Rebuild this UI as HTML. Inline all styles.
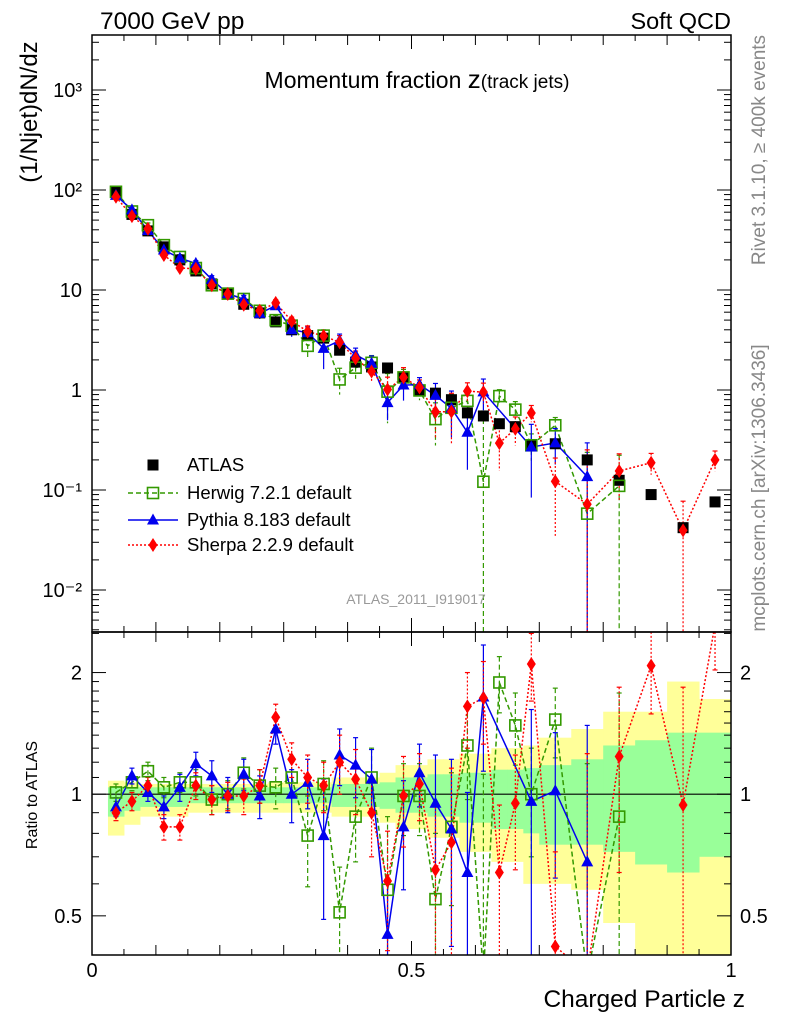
<!DOCTYPE html>
<html><head><meta charset="utf-8">
<style>
html,body{margin:0;background:#fff;overflow:hidden;width:786px;height:1024px;}
svg{display:block;font-family:"Liberation Sans",sans-serif;}
</style></head>
<body>
<svg id="chart" width="786" height="1024" viewBox="0 0 786 1024" xmlns="http://www.w3.org/2000/svg">
<g id="bands"></g>
<g id="marks"></g>
<g id="axes"></g>
<text x="100" y="29" font-size="24.5">7000 GeV pp</text>
<text x="731" y="29" font-size="23.5" text-anchor="end">Soft QCD</text>
<text x="417" y="88" font-size="23" text-anchor="middle">Momentum fraction <tspan font-size="26">z</tspan><tspan font-size="19">(track jets)</tspan></text>
<text transform="translate(37,112) rotate(-90)" font-size="24" text-anchor="middle">(1/Njet)dN/dz</text>
<text transform="translate(37,795) rotate(-90)" font-size="16" text-anchor="middle">Ratio to ATLAS</text>
<text x="745" y="1007" font-size="24.5" text-anchor="end">Charged Particle z</text>
<text transform="translate(765,150) rotate(-90)" font-size="19" fill="#888" text-anchor="middle">Rivet 3.1.10, ≥ 400k events</text>
<text transform="translate(765,488) rotate(-90)" font-size="19" fill="#888" text-anchor="middle">mcplots.cern.ch [arXiv:1306.3436]</text>
<text x="416" y="604" font-size="14" fill="#999" text-anchor="middle">ATLAS_2011_I919017</text>
<g id="legend"></g>
</svg>
<script>
const zCenters=[0.0375,0.0625,0.0875,0.1125,0.1375,0.1625,0.1875,0.2125,0.2375,0.2625,0.2875,0.3125,0.3375,0.3625,0.3875,0.4125,0.4375,0.4625,0.4875,0.5125,0.5375,0.5625,0.5875,0.6125,0.6375,0.6625,0.6875,0.725,0.775,0.825,0.875,0.925,0.975];
const binLo=[0.025,0.05,0.075,0.1,0.125,0.15,0.175,0.2,0.225,0.25,0.275,0.3,0.325,0.35,0.375,0.4,0.425,0.45,0.475,0.5,0.525,0.55,0.575,0.6,0.625,0.65,0.675,0.7,0.75,0.8,0.85,0.9,0.95];
const binHi=[0.05,0.075,0.1,0.125,0.15,0.175,0.2,0.225,0.25,0.275,0.3,0.325,0.35,0.375,0.4,0.425,0.45,0.475,0.5,0.525,0.55,0.575,0.6,0.625,0.65,0.675,0.7,0.75,0.8,0.85,0.9,0.95,1.0];
const atlas=[95,57,39,27,20,15.5,11.5,9.2,7.2,5.9,4.8,4.0,3.5,3.3,2.5,1.9,1.7,1.66,1.35,1.0,0.93,0.8,0.59,0.55,0.46,0.43,0.28,0.29,0.2,0.125,0.09,0.042,0.076];
const herwigRatio=[1.01,1.07,1.14,1.04,1.07,1.07,0.97,1.0,1.13,1.05,1.04,1.10,0.79,1.06,0.51,0.88,1.10,0.58,0.99,0.99,0.55,0.83,1.32,0.22,1.89,1.48,1.0,1.53,0.29,0.88,null,null,null];
const pythiaRatio=[0.93,1.11,1.01,0.93,1.04,1.19,1.11,1.0,1.12,0.99,1.45,1.0,1.07,0.79,1.25,1.18,1.09,0.45,0.83,1.13,0.95,0.82,0.64,1.74,null,null,0.96,1.02,0.68,null,null,null,null];
const sherpaRatio=[0.90,0.96,1.05,0.83,0.83,1.05,0.97,0.99,0.99,1.05,1.55,1.22,1.10,1.05,1.20,1.09,0.90,0.61,0.99,1.06,0.65,0.76,1.65,1.73,0.64,0.95,2.1,0.42,0.36,1.24,2.08,0.94,2.63];
const herwigErr=[0.05,0.05,0.06,0.06,0.06,0.08,0.08,0.08,0.1,0.1,0.12,0.12,0.2,0.15,0.15,0.2,0.2,0.3,0.2,0.2,0.25,0.3,0.35,0.9,0.3,0.3,0.3,0.3,0.9,0.9,0,0,0];
const pythiaErr=[0.05,0.05,0.05,0.06,0.08,0.08,0.1,0.1,0.1,0.12,0.12,0.15,0.15,0.3,0.2,0.2,0.2,0.15,0.25,0.2,0.3,0.4,0.37,0.6,0,0,0.66,0.4,0.8,0,0,0,0];
const sherpaErr=[0.04,0.05,0.05,0.06,0.06,0.08,0.08,0.08,0.1,0.1,0.12,0.12,0.15,0.15,0.2,0.2,0.2,0.2,0.25,0.2,0.3,0.4,0.35,0.4,0.3,0.3,0.4,0.3,0.9,0.6,0.5,0.9,0.6];
const yellowLo=[0.79,0.84,0.88,0.88,0.88,0.9,0.9,0.9,0.9,0.9,0.9,0.9,0.9,0.9,0.88,0.88,0.88,0.85,0.82,0.82,0.78,0.78,0.72,0.72,0.68,0.68,0.6,0.6,0.58,0.48,0.35,0.35,0.35];
const yellowHi=[1.08,1.07,1.06,1.06,1.06,1.06,1.06,1.06,1.06,1.06,1.07,1.07,1.07,1.07,1.1,1.1,1.1,1.13,1.18,1.18,1.22,1.22,1.26,1.26,1.3,1.3,1.32,1.38,1.45,1.6,1.6,1.9,1.72];
const greenLo=[0.88,0.91,0.93,0.93,0.93,0.95,0.95,0.95,0.95,0.95,0.95,0.95,0.95,0.95,0.93,0.93,0.93,0.92,0.9,0.9,0.88,0.88,0.85,0.85,0.82,0.82,0.8,0.75,0.75,0.72,0.67,0.64,0.7];
const greenHi=[1.04,1.04,1.04,1.04,1.04,1.04,1.04,1.04,1.04,1.04,1.04,1.04,1.04,1.04,1.06,1.06,1.06,1.07,1.1,1.1,1.12,1.12,1.13,1.13,1.15,1.15,1.16,1.18,1.22,1.32,1.36,1.42,1.42];
const mainTickLabels=["10\u207B\u00B2","10\u207B\u00B9","1","10","10\u00B2","10\u00B3"];
const mainTickExps=[-2,-1,0,1,2,3];
const ratioTickVals=[0.5,1,2];
const xTickVals=[0,0.5,1];
const legendNames=["ATLAS","Herwig 7.2.1 default","Pythia 8.183 default","Sherpa 2.2.9 default"];

const NS="http://www.w3.org/2000/svg";
const X0=92,X1=731,MT=35,MB=632,RB=955;
const LTOP=3.55,LBOT=-2.42;
const RTOP=Math.log2(2.52),RBOT=Math.log2(0.40);
function xs(z){return X0+z*(X1-X0);}
function ysRaw(v){return MT+(LTOP-Math.log10(v))/(LTOP-LBOT)*(MB-MT);}
function ys(v){return Math.min(Math.max(ysRaw(v),MT-20),MB+20);}
function yr(r){const y=MB+(RTOP-Math.log2(r))/(RTOP-RBOT)*(RB-MB);return Math.min(Math.max(y,MB-20),RB+20);}
function mk(tag,attrs,parent){const e=document.createElementNS(NS,tag);for(const k in attrs)e.setAttribute(k,attrs[k]);parent.appendChild(e);return e;}
const bands=document.getElementById('bands'),marks=document.getElementById('marks'),axes=document.getElementById('axes'),legend=document.getElementById('legend');

function clipR(r){return Math.min(Math.max(r,0.40),2.52);}
for(let i=0;i<binLo.length;i++){
  const y=mk('rect',{x:xs(binLo[i]),y:yr(clipR(yellowHi[i])),width:xs(binHi[i])-xs(binLo[i])+0.5,height:yr(clipR(yellowLo[i]))-yr(clipR(yellowHi[i])),fill:'#ffff99'},bands);
  
  
}
for(let i=0;i<binLo.length;i++){
  const g=mk('rect',{x:xs(binLo[i]),y:yr(greenHi[i]),width:xs(binHi[i])-xs(binLo[i])+0.5,height:yr(greenLo[i])-yr(greenHi[i]),fill:'#99ff99'},bands);
  
  
}
mk('line',{x1:X0,x2:X1,y1:yr(1),y2:yr(1),stroke:'#000','stroke-width':1.2},bands);

const defs=mk('defs',{},document.getElementById('chart'));
const c1=mk('clipPath',{id:'cm'},defs);mk('rect',{x:X0,y:MT,width:X1-X0,height:MB-MT},c1);
const c2=mk('clipPath',{id:'cr'},defs);mk('rect',{x:X0,y:MB,width:X1-X0,height:RB-MB},c2);
const gm=mk('g',{'clip-path':'url(#cm)'},marks);
const gr=mk('g',{'clip-path':'url(#cr)'},marks);

function marker(type,cx,cy,col,parent,name){
  let e;
  if(type==='sq') e=mk('rect',{x:cx-5.5,y:cy-5.5,width:11,height:11,fill:'#000'},parent);
  else if(type==='osq') e=mk('rect',{x:cx-5.5,y:cy-5.5,width:11,height:11,fill:'none',stroke:col,'stroke-width':1.6},parent);
  else if(type==='tri') e=mk('path',{d:`M${cx},${cy-6.5}L${cx+6},${cy+4.5}L${cx-6},${cy+4.5}Z`,fill:col},parent);
  else e=mk('path',{d:`M${cx},${cy-7}L${cx+4.5},${cy}L${cx},${cy+7}L${cx-4.5},${cy}Z`,fill:col},parent);
  
  
}
const series=[
 {r:herwigRatio,err:herwigErr,col:'#339900',dash:'5,3',type:'osq',name:'herwig'},
 {r:pythiaRatio,err:pythiaErr,col:'#0000ee',dash:'',type:'tri',name:'pythia'},
 {r:sherpaRatio,err:sherpaErr,col:'#ff0000',dash:'2,2',type:'dia',name:'sherpa'}];
series.forEach(s=>{
  let pm='',pr='';
  for(let i=0;i<zCenters.length;i++){
    if(s.r[i]==null) continue;
    const x=xs(zCenters[i]);
    pm+=(pm?'L':'M')+x+','+ys(s.r[i]*atlas[i]);
    pr+=(pr?'L':'M')+x+','+yr(s.r[i]);
  }
  const a={fill:'none',stroke:s.col,'stroke-width':1.5};if(s.dash)a['stroke-dasharray']=s.dash;
  const l1=mk('path',Object.assign({d:pm},a),gm);
  
  
  const l2=mk('path',Object.assign({d:pr},a),gr);
  
  
  for(let i=0;i<zCenters.length;i++){
    if(s.r[i]==null||!s.err[i]) continue;
    const x=xs(zCenters[i]);const hi=s.r[i]+s.err[i],lo=Math.max(s.r[i]-s.err[i],0.0001);
    const ea={stroke:s.col,'stroke-width':1.2};if(s.dash)ea['stroke-dasharray']=s.dash;
    const e1=mk('line',Object.assign({x1:x,x2:x,y1:yr(hi),y2:yr(lo)},ea),gr);
    
    
    mk('line',{x1:x-2.5,x2:x+2.5,y1:yr(hi),y2:yr(hi),stroke:s.col,'stroke-width':1.2},gr);
    mk('line',{x1:x-2.5,x2:x+2.5,y1:yr(lo),y2:yr(lo),stroke:s.col,'stroke-width':1.2},gr);
    const e2=mk('line',Object.assign({x1:x,x2:x,y1:ys(hi*atlas[i]),y2:ys(lo*atlas[i])},ea),gm);
    
    
    mk('line',{x1:x-2.5,x2:x+2.5,y1:ys(hi*atlas[i]),y2:ys(hi*atlas[i]),stroke:s.col,'stroke-width':1.2},gm);
  }
});
for(let i=0;i<zCenters.length;i++) marker('sq',xs(zCenters[i]),ys(atlas[i]),'#000',gm,'atlas-point');
series.forEach(s=>{
  for(let i=0;i<zCenters.length;i++){
    if(s.r[i]==null) continue;
    marker(s.type,xs(zCenters[i]),ys(s.r[i]*atlas[i]),s.col,gm,s.name+'-point');
    marker(s.type,xs(zCenters[i]),yr(s.r[i]),s.col,gr,s.name+'-ratio-point');
  }
});

mk('rect',{x:X0,y:MT,width:X1-X0,height:MB-MT,fill:'none',stroke:'#000','stroke-width':1.5},axes);
mk('rect',{x:X0,y:MB,width:X1-X0,height:RB-MB,fill:'none',stroke:'#000','stroke-width':1.5},axes);
function tick(x1,y1,x2,y2){mk('line',{x1,y1,x2,y2,stroke:'#000','stroke-width':1},axes);}
for(let k=0;k<=20;k++){const z=k*0.05,x=xs(z),L=(k%2===0)?(k%10===0?14:10):6;
  [MT,MB].forEach(y=>tick(x,y,x,y+L));[MB,RB].forEach(y=>tick(x,y,x,y-L));}
xTickVals.forEach(v=>{const t=mk('text',{x:xs(v),y:977,'font-size':20,'text-anchor':'middle'},axes);t.textContent=String(v);
  
  });
for(let e=-3;e<=3;e++){for(let m=1;m<10;m++){const v=m*Math.pow(10,e),y=ysRaw(v);if(y<MT||y>MB)continue;const L=m===1?14:7;tick(X0,y,X0+L,y);tick(X1,y,X1-L,y);}}
mainTickExps.forEach((e,i)=>{const t=mk('text',{x:82,y:ysRaw(Math.pow(10,e))+7,'font-size':20,'text-anchor':'end'},axes);t.textContent=mainTickLabels[i];
  
  });
[0.4,0.5,0.6,0.7,0.8,0.9,1,1.1,1.2,1.3,1.4,1.5,1.6,1.7,1.8,1.9,2,2.5].forEach(v=>{const y=yr(v);if(y<MB||y>RB)return;const L=ratioTickVals.includes(v)?14:7;tick(X0,y,X0+L,y);tick(X1,y,X1-L,y);});
ratioTickVals.forEach(v=>{[[82,'end'],[740,'start']].forEach(([x,a])=>{const t=mk('text',{x,y:yr(v)+7,'font-size':20,'text-anchor':a},axes);t.textContent=String(v);
  
  });});

const ly=[465,493,520,545];
const lstyle=[null,series[0],series[1],series[2]];
legendNames.forEach((n,i)=>{
  const g=mk('g',{},legend);
  
  
  const s=lstyle[i];
  if(s){const a={x1:128,x2:178,y1:ly[i],y2:ly[i],stroke:s.col,'stroke-width':1.5};if(s.dash)a['stroke-dasharray']=s.dash;mk('line',a,g);marker(s.type,153,ly[i],s.col,g,'legend-marker');}
  else marker('sq',153,ly[i],'#000',g,'legend-marker');
  const t=mk('text',{x:187,y:ly[i]+6,'font-size':18.5},g);t.textContent=n;
});
</script>
</body></html>
